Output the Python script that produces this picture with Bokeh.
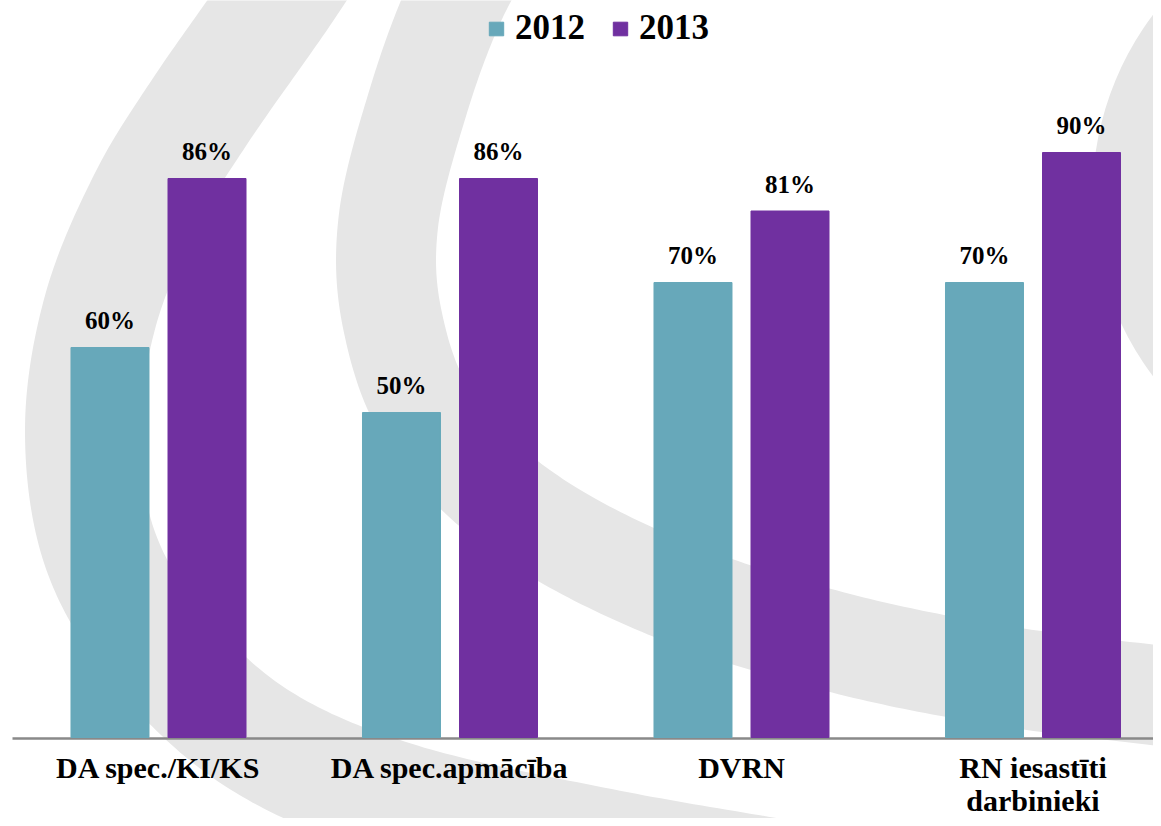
import numpy as np
from bokeh.plotting import figure
from bokeh.models import Range1d, ColumnDataSource, Legend, LegendItem
from bokeh.embed import file_html
from bokeh.resources import INLINE
from bokeh.core.properties import value

# ---------------- data ----------------
categories = ["DA spec./KI/KS", "DA spec.apmācība", "DVRN", "RN iesastīti\ndarbinieki"]
series_names = ["2012", "2013"]
values_2012 = [60, 50, 70, 70]
values_2013 = [86, 86, 81, 90]
series_colors = ["#67A8BA", "#7030A0"]

# ---------------- layout ----------------
W, H = 1153, 818
PX_PER_CAT = 291.5
PX_PER_PCT = 6.5
X0_PX = 158.0   # px of first category centre
Y0_PX = 737.0   # px (from top) of the 0 line

x_start = -X0_PX / PX_PER_CAT
x_end = (W - X0_PX) / PX_PER_CAT
y_end = Y0_PX / PX_PER_PCT
y_start = -(H - Y0_PX) / PX_PER_PCT


def to_data(px, py):
    """pixel -> data coords (decoration only)"""
    return (px - X0_PX) / PX_PER_CAT, (Y0_PX - py) / PX_PER_PCT


def smooth(points, n=24):
    pts = np.array(points, float)
    pts = np.vstack([pts[0] * 2 - pts[1], pts, pts[-1] * 2 - pts[-2]])
    out = []
    for i in range(1, len(pts) - 2):
        p0, p1, p2, p3 = pts[i - 1], pts[i], pts[i + 1], pts[i + 2]
        for t in np.linspace(0, 1, n, endpoint=False):
            t2, t3 = t * t, t * t * t
            out.append(0.5 * ((2 * p1) + (-p0 + p2) * t + (2 * p0 - 5 * p1 + 4 * p2 - p3) * t2
                              + (-p0 + 3 * p1 - 3 * p2 + p3) * t3))
    out.append(pts[-2])
    return np.array(out)


p = figure(width=W, height=H, output_backend="svg", toolbar_location=None,
           x_range=Range1d(x_start, x_end), y_range=Range1d(y_start, y_end),
           x_axis_type=None, y_axis_type=None, min_border=0)
p.outline_line_color = None
p.xgrid.visible = False
p.ygrid.visible = False
p.background_fill_color = "white"
p.border_fill_color = "white"

GRAY = "#E6E6E6"
# decorative background bands (pixel paths)
band_a = [(330, -80), (277, 0), (200, 110), (145, 200), (100, 310), (82, 430), (100, 550),
          (160, 650), (260, 740), (400, 800), (600, 845), (800, 880)]
band_b = [(500, -80), (455, 0), (418, 100), (388, 220), (392, 320), (430, 420), (520, 510),
          (660, 585), (830, 640), (1000, 675), (1200, 700)]
for path, lw in ((band_a, 115), (band_b, 100)):
    pts = smooth([to_data(*q) for q in path])
    p.line(pts[:, 0], pts[:, 1], line_color=GRAY, line_width=lw, line_join="round")
cx, cy = to_data(1392, 195)
p.circle(x=[cx], y=[cy], radius=300, radius_units="screen", fill_color=GRAY, line_color=None)

# baseline
bx0, by0 = to_data(12, 738)
p.segment(x0=[bx0], y0=[by0], x1=[x_end], y1=[by0], line_color="#898989", line_width=2.5)

# bars
idx = np.arange(len(categories))
BAR_W = 0.2676
OFF = 0.1664
renderers = []
label_x, label_y, label_t = [], [], []
for k, (vals, col) in enumerate(zip([values_2012, values_2013], series_colors)):
    xs = idx + (-OFF if k == 0 else OFF)
    src = ColumnDataSource(dict(x=xs, top=vals))
    r = p.vbar(x="x", top="top", width=BAR_W, source=src, fill_color=col, line_color=col)
    renderers.append(r)
    label_x += list(xs)
    label_y += list(vals)
    label_t += [f"{v}%" for v in vals]

FONT = value("Liberation Serif")
p.text(x=label_x, y=label_y, text=label_t, text_align="center", text_baseline="alphabetic",
       y_offset=-27, text_font=FONT, text_font_style="bold", text_font_size="25px",
       text_color="black")

# category labels
p.text(x=list(idx), y=[0] * len(idx), text=categories, text_align="center", text_baseline="top",
       y_offset=13, text_font=FONT, text_font_style="bold", text_font_size="30px",
       text_color="black", text_line_height=1.0)

legend = Legend(items=[LegendItem(label=series_names[i], renderers=[renderers[i]]) for i in range(2)],
                orientation="horizontal", location=(487, 770),
                glyph_width=18, glyph_height=17, label_standoff=10, spacing=26,
                padding=0, margin=0, border_line_color=None, background_fill_alpha=0,
                label_text_font="Liberation Serif", label_text_font_style="bold",
                label_text_font_size="35px", label_text_color="black")
p.add_layout(legend)

open("out.html", "w").write(file_html(p, INLINE))
